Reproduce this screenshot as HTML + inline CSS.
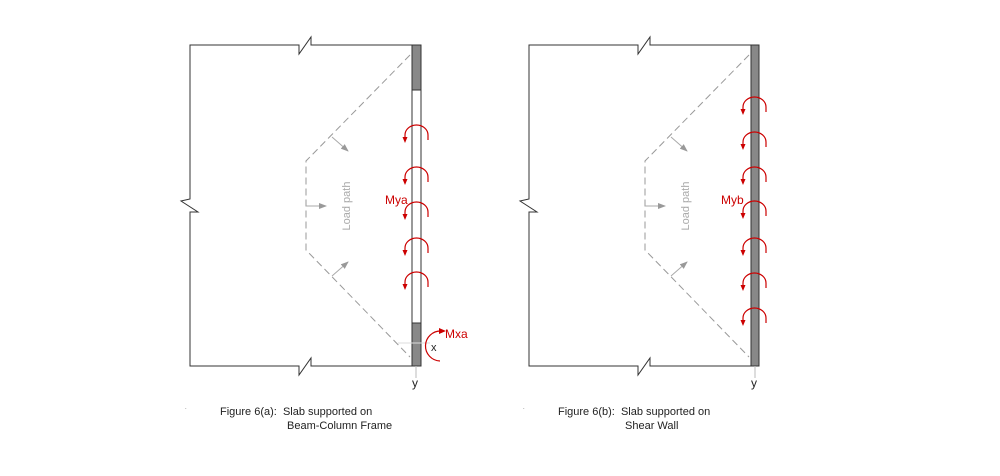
<!DOCTYPE html>
<html><head><meta charset="utf-8"><style>
html,body{margin:0;padding:0;background:#fff;}
svg{display:block;}
text{font-family:"Liberation Sans",sans-serif;white-space:pre;}
</style></head><body>
<svg width="1000" height="476" viewBox="0 0 1000 476" xmlns="http://www.w3.org/2000/svg">
<defs>
<marker id="ga" markerWidth="8" markerHeight="6" refX="7" refY="3" orient="auto" markerUnits="userSpaceOnUse"><path d="M0,0 L8,3 L0,6 z" fill="#999"/></marker>
<g id="frame">
<path d="M412,45 L311,45 L311,37 L299,54 L299,45 L190,45 L190,199 L181,201 L198,212 L190,212 L190,366 L299,366 L299,375 L311,358 L311,366 L412,366" fill="none" stroke="#333" stroke-width="1"/>
<path d="M410,55 L306,161 L306,250 L410,357" fill="none" stroke="#999" stroke-width="1" stroke-dasharray="7,4"/>
<line x1="332" y1="137" x2="348" y2="151" stroke="#aaa" marker-end="url(#ga)"/>
<line x1="306" y1="206" x2="326" y2="206" stroke="#aaa" marker-end="url(#ga)"/>
<line x1="332" y1="276" x2="348" y2="262" stroke="#aaa" marker-end="url(#ga)"/>
<text x="0" y="0" transform="translate(350,206) rotate(-90)" text-anchor="middle" font-size="11" fill="#aaa">Load path</text>
</g>
<g id="m">
<path d="M0,13 L0,10 A11.5,10 0 0 1 23,10 L23,15" fill="none" stroke="#c00" stroke-width="1.2"/>
<path d="M-2.5,12 L2.5,12 L0,18 z" fill="#c00"/>
</g>
</defs>

<use href="#frame"/>
<rect x="412" y="45" width="9" height="321" fill="#fff" stroke="#333" stroke-width="1"/>
<rect x="412" y="45" width="9" height="45" fill="#888" stroke="#333" stroke-width="1"/>
<rect x="412" y="323" width="9" height="43" fill="#888" stroke="#333" stroke-width="1"/>
<line x1="416" y1="366" x2="416" y2="378" stroke="#bbb"/>
<line x1="398" y1="343" x2="430" y2="343" stroke="#ddd"/>
<use href="#m" transform="translate(405,125)"/>
<use href="#m" transform="translate(405,167)"/>
<use href="#m" transform="translate(405,202)"/>
<use href="#m" transform="translate(405,238)"/>
<use href="#m" transform="translate(405,272)"/>
<path d="M441,331 A15,15 0 0 0 440,361" fill="none" stroke="#c00" stroke-width="1.2"/>
<path d="M439,328 L446,331 L439,334 z" fill="#c00"/>
<text x="385" y="204" font-size="12" fill="#c00">Mya</text>
<text x="445" y="338" font-size="12" fill="#c00">Mxa</text>
<text x="431" y="351" font-size="11" fill="#222">x</text>
<text x="412" y="387" font-size="12" fill="#222">y</text>

<use href="#frame" transform="translate(339,0)"/>
<rect x="751" y="45" width="8" height="321" fill="#888" stroke="#333" stroke-width="1"/>
<line x1="755" y1="366" x2="755" y2="378" stroke="#bbb"/>
<use href="#m" transform="translate(743,97)"/>
<use href="#m" transform="translate(743,132)"/>
<use href="#m" transform="translate(743,167)"/>
<use href="#m" transform="translate(743,201)"/>
<use href="#m" transform="translate(743,238)"/>
<use href="#m" transform="translate(743,273)"/>
<use href="#m" transform="translate(743,308)"/>
<text x="721" y="204" font-size="12" fill="#c00">Myb</text>
<text x="751" y="387" font-size="12" fill="#222">y</text>

<text x="185" y="409" font-size="6" fill="#666">.</text>
<text x="220" y="415" font-size="11" fill="#222" xml:space="preserve">Figure 6(a):  Slab supported on</text>
<text x="287" y="429" font-size="11" fill="#222">Beam-Column Frame</text>
<text x="523" y="409" font-size="6" fill="#666">.</text>
<text x="558" y="415" font-size="11" fill="#222" xml:space="preserve">Figure 6(b):  Slab supported on</text>
<text x="625" y="429" font-size="11" fill="#222">Shear Wall</text>
</svg>
</body></html>
